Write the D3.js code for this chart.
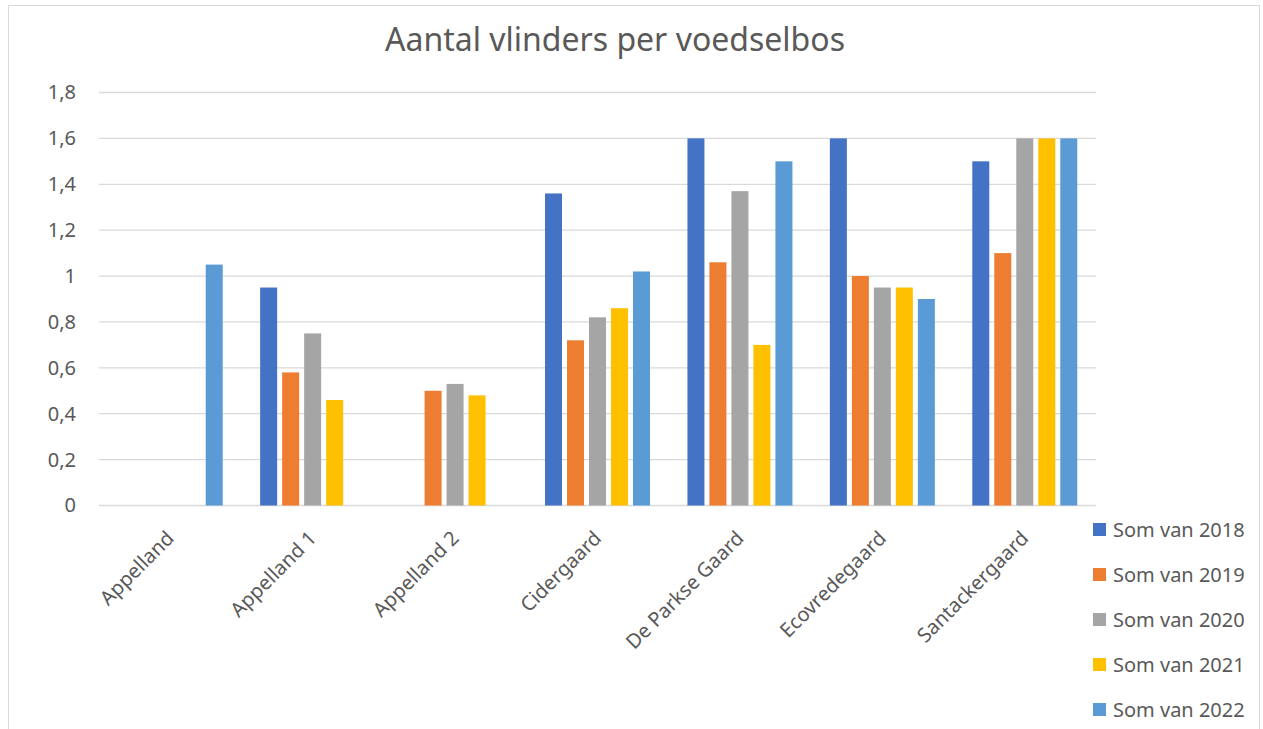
<!DOCTYPE html>
<html>
<head>
<meta charset="utf-8">
<script src="https://cdn.jsdelivr.net/npm/d3@7"></script>
<style>
  body { margin: 0; background: #fff; }
  text { font-family: "Noto Sans", "Open Sans", sans-serif; fill: #595959; }
</style>
</head>
<body>
<div id="chart"></div>
<script>
// Data
const categories = ["Appelland", "Appelland 1", "Appelland 2", "Cidergaard", "De Parkse Gaard", "Ecovredegaard", "Santackergaard"];
const seriesNames = ["Som van 2018", "Som van 2019", "Som van 2020", "Som van 2021", "Som van 2022"];
const som2018 = [null, 0.95, null, 1.36, 1.6, 1.6, 1.5];
const som2019 = [null, 0.58, 0.5, 0.72, 1.06, 1.0, 1.1];
const som2020 = [null, 0.75, 0.53, 0.82, 1.37, 0.95, 1.6];
const som2021 = [null, 0.46, 0.48, 0.86, 0.7, 0.95, 1.6];
const som2022 = [1.05, null, null, 1.02, 1.5, 0.9, 1.6];
const yTicks = [0, 0.2, 0.4, 0.6, 0.8, 1, 1.2, 1.4, 1.6, 1.8];
const colors = ["#4472C4", "#ED7D31", "#A5A5A5", "#FFC000", "#5B9BD5"];

const allSeries = [som2018, som2019, som2020, som2021, som2022];

const W = 1263, H = 729;
const plot = { left: 99, right: 1096, top: 92.5, bottom: 505.5 };

const svg = d3.select("#chart")
    .append("svg")
    .attr("width", W)
    .attr("height", H);

// chart border
svg.append("rect")
    .attr("x", 8.5).attr("y", 5.5)
    .attr("width", 1251).attr("height", 740)
    .attr("fill", "#fff")
    .attr("stroke", "#d9d9d9");

// Title
svg.append("text")
    .attr("x", 615).attr("y", 51)
    .attr("text-anchor", "middle")
    .style("font-size", "32px")
    .text("Aantal vlinders per voedselbos");

// Scales
const x0 = d3.scaleBand()
    .domain(categories)
    .range([plot.left, plot.right]);

const groupW = 105;
const x1 = d3.scaleBand()
    .domain(seriesNames)
    .range([(x0.bandwidth() - groupW) / 2, (x0.bandwidth() + groupW) / 2])
    .paddingInner(0.227);

const y = d3.scaleLinear()
    .domain([0, 1.8])
    .range([plot.bottom, plot.top]);

// Gridlines
svg.append("g")
    .selectAll("line")
    .data(yTicks)
    .join("line")
    .attr("x1", plot.left).attr("x2", plot.right)
    .attr("y1", d => y(d)).attr("y2", d => y(d))
    .attr("stroke", "#d9d9d9")
    .attr("stroke-width", 1.3);

// Y axis labels
const yAxis = svg.append("g")
    .attr("transform", `translate(${plot.left - 23},0)`)
    .call(d3.axisLeft(y).tickValues(yTicks).tickSize(0)
        .tickFormat(d => d3.format("~g")(d).replace(".", ",")));
yAxis.select(".domain").remove();
yAxis.selectAll("text")
    .attr("x", 0)
    .style("font-size", "20px")
    .style("font-family", "'Noto Sans', sans-serif")
    .attr("fill", "#595959");

// Bars
const rows = [];
categories.forEach((c, i) => {
    allSeries.forEach((s, j) => {
        if (s[i] != null) rows.push({ cat: c, series: seriesNames[j], value: s[i], color: colors[j] });
    });
});

svg.append("g")
    .selectAll("rect")
    .data(rows)
    .join("rect")
    .attr("x", d => x0(d.cat) + x1(d.series))
    .attr("y", d => y(d.value))
    .attr("width", x1.bandwidth())
    .attr("height", d => y(0) - y(d.value))
    .attr("fill", d => d.color);

// X axis labels, rotated
const xAxis = svg.append("g")
    .attr("transform", `translate(0,${plot.bottom})`)
    .call(d3.axisBottom(x0).tickSize(0));
xAxis.select(".domain").remove();
xAxis.selectAll("text")
    .style("font-size", "20px")
    .style("font-family", "'Noto Sans', sans-serif")
    .attr("fill", "#595959")
    .attr("text-anchor", "end")
    .attr("dy", "0.7em")
    .attr("transform", "translate(-7,22) rotate(-45)");

// Legend
const legend = svg.append("g")
    .attr("transform", "translate(1093,530)");
const item = legend.selectAll("g")
    .data(seriesNames)
    .join("g")
    .attr("transform", (d, i) => `translate(0,${i * 45})`);
item.append("rect")
    .attr("x", 0).attr("y", -7)
    .attr("width", 13).attr("height", 13)
    .attr("fill", (d, i) => colors[i]);
item.append("text")
    .attr("x", 20).attr("y", 0)
    .attr("dy", "0.35em")
    .style("font-size", "20px")
    .text(d => d);
</script>
</body>
</html>
